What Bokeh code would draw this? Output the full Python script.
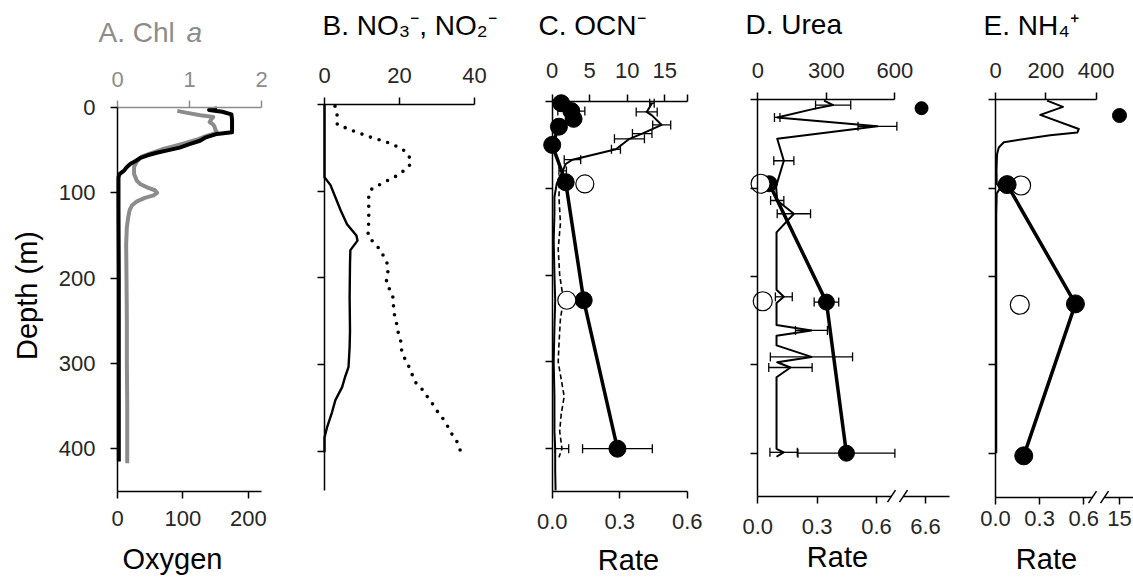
import numpy as np
from bokeh.plotting import figure
from bokeh.models import Range1d, LinearAxis, FixedTicker, Label, PrintfTickFormatter
from bokeh.layouts import row
from bokeh.embed import file_html
from bokeh.resources import INLINE

# ---------------------------------------------------------------- data
# A. oxygen (µM, bottom axis) and chlorophyll a (µg/L, top axis)
oxy_depth = [1, 3, 5, 8, 14, 22, 29, 31, 35, 39, 43, 47, 50, 53, 56, 59, 63, 66, 70, 74, 78, 82, 120, 200, 300, 415]
oxy = [152, 140, 160, 174, 175, 175, 175, 152, 135, 126, 110, 95, 78, 60, 46, 35, 27, 20, 14, 10, 3, 1.5, 1.5, 2, 2, 2]
chl_depth = [4, 6, 9, 11, 14, 17, 20, 23, 26, 29, 31, 33, 37, 41, 45, 49, 54, 58, 63, 70, 78, 86, 90, 94, 97,
             100, 103, 106, 110, 115, 120, 128, 140, 160, 200, 250, 300, 350, 417]
chl = [0.83, 0.95, 1.15, 1.33, 1.30, 1.28, 1.33, 1.35, 1.36, 1.38, 1.33, 1.25, 1.12, 0.97, 0.80, 0.62, 0.45, 0.33,
       0.27, 0.23, 0.23, 0.27, 0.32, 0.42, 0.52, 0.55, 0.50, 0.38, 0.27, 0.20, 0.17, 0.15, 0.13, 0.12, 0.125, 0.13,
       0.13, 0.135, 0.135]

# B. nitrate (dotted) and nitrite (solid), µM
no3_depth = [2, 13, 23, 30, 37, 43, 51, 59, 68, 74, 81, 90, 97, 103, 134, 151, 160, 167, 176, 185, 195, 206, 214,
             224, 234, 244, 254, 264, 274, 285, 294, 304, 314, 323, 330, 339, 347, 356, 363, 373, 382, 390, 399, 405]
no3 = [2.8, 3.4, 3.4, 7.4, 11.8, 16.4, 20.7, 22.5, 23.1, 21.8, 19.8, 15.8, 12.7, 11.8, 11.8, 11.6, 13.2, 14.8, 15.9,
       16.9, 16.9, 16.4, 17.5, 18.4, 18.4, 18.7, 19.3, 19.7, 20.4, 20.6, 21.5, 22.7, 23.6, 24.6, 26.4, 27.7, 29.1,
       30.4, 31.7, 33.1, 34.2, 35.5, 36.2, 36.6]
no2_depth = [0, 84, 93, 107, 122, 138, 151, 157, 168, 184, 222, 261, 280, 303, 314, 326, 341, 355, 372, 384, 401]
no2 = [0, 0, 1.6, 2.9, 4.3, 6.0, 8.5, 8.8, 6.9, 6.8, 6.7, 6.8, 6.7, 6.4, 5.5, 4.7, 2.9, 2.0, 0.7, 0, 0]

# C. cyanate: concentration profiles (nM, top axis) and uptake rates (bottom axis)
ocn_depth = [2, 12, 16, 27, 37, 43, 55, 67, 72, 80, 95, 110, 130, 160, 200, 229, 260, 300, 340, 380, 400, 425, 448]
ocn = [13.3, 12.6, 13.3, 14.6, 12.0, 10.3, 8.5, 2.7, 1.8, 1.4, 0.6, 0.3, 0.3, 0.2, 0.3, 0.4, 0.3, 0.2, 0.3, 0.3,
       0.4, 0.4, 0.45]
ocn_err = [0.3, 1.4, 0, 1.2, 1.3, 2.0, 0.6, 1.1, 0, 0.5, 0, 0, 0, 0, 0, 0, 0, 0, 0, 0, 0, 0, 0]
ocn2_depth = [85, 110, 140, 170, 200, 229, 250, 280, 300, 320, 340, 360, 380, 400, 410]
ocn2 = [1.0, 0.9, 1.1, 0.8, 1.0, 1.5, 1.1, 0.9, 0.8, 1.2, 1.6, 1.2, 1.0, 1.3, 0.9]
ocn2_err = [0, 0, 0, 0, 0, 0.6, 0, 0, 0, 0, 0, 0, 0, 0.9, 0]
ocn_rate_depth = [2, 11, 20, 29, 50, 93, 229, 400]
ocn_rate = [0.04, 0.085, 0.095, 0.03, 0.0, 0.06, 0.14, 0.29]
ocn_rate_err = [0, 0.06, 0, 0, 0, 0, 0, 0.155]
ocn_open_depth = [95, 229]
ocn_open = [0.145, 0.065]

# D. urea: concentration (nM, top axis) and uptake rates (bottom axis)
urea_depth = [1, 6, 10, 20, 30, 44, 69, 98, 114, 129, 150, 200, 215, 223, 230, 255, 261, 267, 278, 291, 297, 303,
              314, 380, 395, 399, 404]
urea = [290, 330, 250, 85, 524, 85, 114, 80, 85, 158, 82, 82, 82, 114, 82, 82, 235, 82, 82, 235, 85, 143, 82, 82,
        82, 113, 82]
urea_err = [0, 77, 0, 12, 85, 0, 44, 0, 29, 73, 0, 0, 0, 37, 0, 0, 70, 0, 0, 180, 0, 95, 0, 0, 0, 60, 0]
urea_rate_depth = [95, 229, 400]
urea_rate = [0.058, 0.347, 0.448]
urea_rate_err = [0, 0.062, 0.245]
urea_open_depth = [95, 228]
urea_open = [0.014, 0.025]
urea_high_depth = [9.5]
urea_high = [6.58]

# E. ammonium: concentration (nM, top axis) and uptake rates (bottom axis)
nh4_depth = [1, 8, 17, 33, 37, 40, 48, 54, 62, 80, 95, 100, 106, 130, 200, 300, 400]
nh4 = [205, 268, 178, 331, 325, 217, 33, 13, 6, 4, 5, 18, 5, 3, 3, 3, 3]
nh4_rate_depth = [96, 231, 403]
nh4_rate = [0.079, 0.543, 0.192]
nh4_open_depth = [97, 232]
nh4_open = [0.174, 0.165]
nh4_high_depth = [17.8]
nh4_high = [15]

depth_ticks = [0, 100, 200, 300, 400]

# ---------------------------------------------------------------- style
H = 577
FONT = "Liberation Sans"
BLACK = "#000000"
GREY = "#8c8c8c"
TXT = "#262626"
TICK_PX = "22px"
TEXT_LIFT = 12   # labels are anchored a little below their baseline


def make_panel(left, width, x0, sx, y0, sy):
    """A panel whose frame fills the whole figure; x0/sx and y0/sy give
    the pixel position of value 0 and the pixels per unit."""
    g = dict(left=left, width=width, x0=x0, sx=sx, y0=y0, sy=sy)
    p = figure(width=width, height=H,
               x_range=Range1d((left - x0) / sx, (left + width - x0) / sx),
               y_range=Range1d((H - y0) / sy, -y0 / sy),
               output_backend="svg", toolbar_location=None,
               x_axis_location=None, y_axis_location=None,
               min_border=0, min_border_left=0, min_border_right=0,
               min_border_top=0, min_border_bottom=0)
    p.outline_line_color = None
    p.grid.visible = False
    p.background_fill_color = "white"
    p.border_fill_color = "white"
    return p, g


def extra_range(p, g, name, x0, sx):
    rngs = dict(p.extra_x_ranges)
    rngs[name] = Range1d((g["left"] - x0) / sx, (g["left"] + g["width"] - x0) / sx)
    p.extra_x_ranges = rngs


def px_x(g, px):
    return (px - g["x0"]) / g["sx"]


def px_y(g, py):
    return (py - g["y0"]) / g["sy"]


def axis(p, side, ticks, bounds, loc, range_name=None, color=BLACK, label_color=TXT,
         fmt=None, overrides=None, standoff=12, hide_labels=False):
    kw = dict(fixed_location=loc, bounds=bounds, ticker=FixedTicker(ticks=ticks))
    if range_name:
        kw["x_range_name"] = range_name
    ax = LinearAxis(**kw)
    ax.axis_line_color = color
    ax.axis_line_width = 1.5
    ax.major_tick_line_color = color
    ax.major_tick_line_width = 1.5
    ax.major_tick_out = 7
    ax.major_tick_in = 0
    ax.minor_tick_line_color = None
    ax.major_label_text_font = FONT
    ax.major_label_text_font_size = TICK_PX
    ax.major_label_text_color = label_color
    ax.major_label_standoff = standoff
    if fmt:
        ax.formatter = PrintfTickFormatter(format=fmt)
    if hide_labels:
        ax.major_label_overrides = {t: "" for t in ticks}
    elif overrides:
        ax.major_label_overrides = overrides
    p.add_layout(ax, side)
    return ax


def text(p, g, px, py, s, size, color=BLACK, align="left", angle=0, style="normal"):
    if angle:
        px -= TEXT_LIFT
    else:
        py -= TEXT_LIFT
    p.add_layout(Label(x=px_x(g, px), y=px_y(g, py), text=s, text_font=FONT,
                       text_font_size=f"{size}px", text_color=color, text_align=align,
                       text_baseline="alphabetic", angle=angle, text_font_style=style))


def errbars(p, depth, val, err, range_name="default", width=1.3, cap=9):
    d = [a for a, e in zip(depth, err) if e > 0]
    lo = [v - e for v, e in zip(val, err) if e > 0]
    hi = [v + e for v, e in zip(val, err) if e > 0]
    if not d:
        return
    p.segment(x0=lo, y0=d, x1=hi, y1=d, line_color=BLACK, line_width=width, x_range_name=range_name)
    p.scatter(x=lo + hi, y=d + d, marker="dash", angle=np.pi / 2, size=cap,
              line_color=BLACK, line_width=width, x_range_name=range_name)


def break_marks(p, g, centers_px, axis_py):
    x0s = [px_x(g, c - 4) for c in centers_px]
    x1s = [px_x(g, c + 4) for c in centers_px]
    y0s = [px_y(g, axis_py + 6)] * len(centers_px)
    y1s = [px_y(g, axis_py - 6)] * len(centers_px)
    p.segment(x0=x0s, y0=y0s, x1=x1s, y1=y1s, line_color=BLACK, line_width=1.5)


def rate_points(p, depth, val, size=17):
    p.scatter(x=val, y=depth, size=size, marker="circle", fill_color=BLACK, line_color=BLACK)


def open_points(p, depth, val, size=18):
    p.scatter(x=val, y=depth, size=size, marker="circle", fill_color="white",
              line_color=BLACK, line_width=1.2)


# ---------------------------------------------------------------- A. Chl a / oxygen
pA, gA = make_panel(0, 290, 117, 144 / 220, 107, 0.853)
extra_range(pA, gA, "chl", 117, 72)
botA = px_y(gA, 491)
pA.line(chl, chl_depth, x_range_name="chl", line_color=GREY, line_width=4, line_join="round")
pA.line(oxy, oxy_depth, line_color=BLACK, line_width=4, line_join="round")
axis(pA, "left", depth_ticks, (0, botA), 0, standoff=15)
axis(pA, "below", [0, 100, 200], (0, 220), botA, standoff=12)
axis(pA, "above", [0, 1, 2], (0, 2), 0, range_name="chl", color=GREY, label_color=GREY, standoff=14)
text(pA, gA, 98, 44, "A. Chl", 28, color=GREY)
text(pA, gA, 186, 44, "a", 28, color=GREY, style="italic")
text(pA, gA, 172, 570, "Oxygen", 29, align="center")
text(pA, gA, 38, 295, "Depth (m)", 29, align="center", angle=np.pi / 2)

# ---------------------------------------------------------------- B. nitrate / nitrite
pB, gB = make_panel(290, 230, 324, 3.75, 104, 0.867)
pB.line(no3, no3_depth, line_color=BLACK, line_width=3.6, line_dash="0 9", line_cap="round")
pB.line(no2, no2_depth, line_color=BLACK, line_width=2.4, line_join="round")
axis(pB, "left", depth_ticks, (0, px_y(gB, 490)), 0, hide_labels=True)
axis(pB, "above", [0, 20, 40], (0, 40), 0, standoff=15)
text(pB, gB, 322, 37, "B. NO\u2083\u207b, NO\u2082\u207b", 28)

# ---------------------------------------------------------------- C. cyanate
pC, gC = make_panel(520, 205, 551.7, 225, 101, 0.868)
extra_range(pC, gC, "ocn", 551.7, 7.5)
botC = px_y(gC, 491)
pC.line(ocn2, ocn2_depth, x_range_name="ocn", line_color=BLACK, line_width=1.6, line_dash="5 3")
errbars(pC, ocn2_depth, ocn2, ocn2_err, range_name="ocn")
pC.line(ocn, ocn_depth, x_range_name="ocn", line_color=BLACK, line_width=2, line_join="round")
errbars(pC, ocn_depth, ocn, ocn_err, range_name="ocn")
pC.line(ocn_rate, ocn_rate_depth, line_color=BLACK, line_width=3.5)
errbars(pC, ocn_rate_depth, ocn_rate, ocn_rate_err)
rate_points(pC, ocn_rate_depth, ocn_rate)
open_points(pC, ocn_open_depth, ocn_open)
axis(pC, "left", depth_ticks, (0, botC), 0, hide_labels=True)
axis(pC, "above", [0, 5, 10, 15, 18], (0, 18), 0, range_name="ocn", overrides={18: ""}, standoff=17)
axis(pC, "below", [0, 0.3, 0.6], (0, 0.6), botC, fmt="%.1f", standoff=15)
text(pC, gC, 538, 37, "C. OCN\u207b", 28)
text(pC, gC, 628, 571, "Rate", 29, align="center")

# ---------------------------------------------------------------- D. urea
pD, gD = make_panel(725, 237, 757.3, 197.8, 99.3, 0.8835)
extra_range(pD, gD, "urea", 757.3, 137 / 600)
extra_range(pD, gD, "brk", 925 - 6.6 * 197.8, 197.8)
botD = px_y(gD, 495.7)
pD.line(urea, urea_depth, x_range_name="urea", line_color=BLACK, line_width=2, line_join="round")
errbars(pD, urea_depth, urea, urea_err, range_name="urea")
pD.line(urea_rate, urea_rate_depth, line_color=BLACK, line_width=3.5)
errbars(pD, urea_rate_depth, urea_rate, urea_rate_err)
rate_points(pD, urea_rate_depth, urea_rate, size=16)
open_points(pD, urea_open_depth, urea_open, size=19)
pD.scatter(x=urea_high, y=urea_high_depth, x_range_name="brk", size=13, marker="circle",
           fill_color=BLACK, line_color=BLACK)
axis(pD, "left", depth_ticks, (0, botD), 0, hide_labels=True)
axis(pD, "above", [0, 300, 600], (0, 600), 0, range_name="urea", standoff=15)
axis(pD, "below", [0, 0.3, 0.6], (0, px_x(gD, 891)), botD, fmt="%.1f", standoff=16)
axis(pD, "below", [6.6], (6.6 + (903 - 925) / 197.8, 6.6 + (949 - 925) / 197.8), botD,
     range_name="brk", fmt="%.1f", standoff=16)
break_marks(pD, gD, [891, 903], 495.7)
text(pD, gD, 745, 36, "D. Urea", 28)
text(pD, gD, 837, 568, "Rate", 29, align="center")

# ---------------------------------------------------------------- E. ammonium
pE, gE = make_panel(962, 171, 995, 147.2, 99.3, 0.8835)
extra_range(pE, gE, "nh4", 995, 100.7 / 400)
extra_range(pE, gE, "brk", 1119 - 15 * 147.2, 147.2)
botE = px_y(gE, 496.7)
pE.line(nh4, nh4_depth, x_range_name="nh4", line_color=BLACK, line_width=2, line_join="round")
pE.line(nh4_rate, nh4_rate_depth, line_color=BLACK, line_width=3.5)
open_points(pE, nh4_open_depth, nh4_open, size=19)
rate_points(pE, nh4_rate_depth, nh4_rate, size=18)
pE.scatter(x=nh4_high, y=nh4_high_depth, x_range_name="brk", size=14, marker="circle",
           fill_color=BLACK, line_color=BLACK)
axis(pE, "left", depth_ticks, (0, botE), 0, hide_labels=True)
axis(pE, "above", [0, 200, 400], (0, 400), 0, range_name="nh4", standoff=15)
axis(pE, "below", [0, 0.3, 0.6], (0, px_x(gE, 1092)), botE, fmt="%.1f", standoff=7)
axis(pE, "below", [15], (15 + (1104 - 1119) / 147.2, 15 + (1133 - 1119) / 147.2), botE,
     range_name="brk", standoff=7)
break_marks(pE, gE, [1092, 1104], 496.7)
text(pE, gE, 983, 37, "E. NH\u2084\u207a", 28)
text(pE, gE, 1046, 570, "Rate", 29, align="center")

layout = row(pA, pB, pC, pD, pE)
open("out.html", "w").write(file_html(layout, INLINE))
